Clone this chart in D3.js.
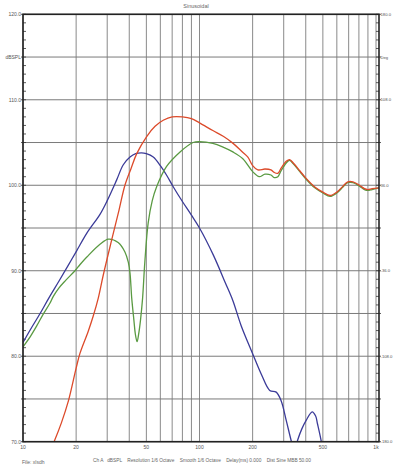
<!DOCTYPE html>
<html><head><meta charset="utf-8">
<script src="https://cdn.jsdelivr.net/npm/d3@7"></script>
<style>body{margin:0;background:#fff;}svg{display:block;}</style>
</head><body>
<script>
const title = "Sinusoidal";
const xTicks = [10,20,50,100,200,500,1000];
const xTickLabels = ["10","20","50","100","200","500","1k"];
const yLeftLabels = ["120.0","dBSPL","110.0","100.0","90.0","80.0","70.0"];
const yLeftLabelVals = [120,115,110,100,90,80,70];
const yRightLabels = ["180.0","Deg","108.0","36.0","-36.0","-108.0","-180.0"];

const redF  = [14,15,16.5,18.1,20,21,23.4,25,26.7,28.5,31.8,35,37.8,41,44.1,50.2,56,62.3,70,80,90,100,119,137,155,175,188,200,214,235,254,265,278,290,310,324,340,370,402,450,500,549,600,650,692,740,806,860,899,950,1040];
const redDB = [68.6,70,72.2,74.8,78.6,80.3,82.9,84.7,86.8,89.5,93.6,97.1,100,102,103.7,105.7,106.9,107.6,108,108,107.8,107.3,106.4,105.7,104.9,103.9,103.3,102.3,101.8,101.9,101.8,101.5,101.4,102,102.8,103,102.6,101.7,100.8,99.8,99.2,98.8,99.2,99.9,100.4,100.4,100,99.6,99.5,99.6,99.7];

const greenF  = [10,11,12,13,14.2,14.85,16,17.5,19.7,21,23,27.3,30.5,34.6,37.8,39.5,40.4,41.3,42.5,43.3,44.3,45.3,46.3,47.6,49,51.2,54,57.1,65.1,77.6,92,100,119,135,154.6,176,200,218,235,254,265,278,290,310,324,340,370,402,450,500,549,600,650,692,740,806,860,899,950,1040];
const greenDB = [81.1,82.3,83.6,84.9,86.2,87.0,88.0,88.9,90.0,90.7,91.6,93.1,93.7,93.3,92.2,91.0,89.7,86.8,84.2,82.6,81.7,82.7,84.2,86.8,91,95.6,98.2,99.8,102.2,103.9,105,105.1,104.9,104.5,103.9,103.1,101.6,101,101.3,101.2,100.9,101,101.7,102.6,102.9,102.5,101.6,100.7,99.7,99.1,98.7,99.1,99.8,100.3,100.3,99.9,99.5,99.4,99.5,99.7];

const blueF  = [10,11,12.5,14,16,18,20.1,23,27.3,30,33.9,37,40.4,43.5,46.9,50,54.7,60,65,71.1,80,90,100,120,140,154.6,172,200,225,250,272,290,310,330,345,360,380,402,435,455,466,490,510,540];
const blueDB = [81.6,83.1,85,86.8,88.8,90.6,92.3,94.4,96.6,98.2,100.6,102.4,103.3,103.7,103.8,103.7,103.3,102.3,101.2,99.8,98.1,96.5,95,91.8,88.6,86.5,83.6,80.3,77.8,76,75.8,74.8,72.5,70.2,68.8,70.2,71.5,72.5,73.5,73,72.1,70,67.5,65];

const W = 393, H = 465;
const L = 23, R = 379, T = 14.3, B = 441.7;
const x = d3.scaleLog().domain([10,1000]).range([L,376]);
const y = d3.scaleLinear().domain([70,120]).range([B,T]);

const svg = d3.select("body").append("svg").attr("width",W).attr("height",H)
  .style("font-family","Liberation Sans, Arial, sans-serif");

svg.append("text").attr("x",196).attr("y",8).attr("text-anchor","middle")
  .attr("font-size",5.5).attr("fill","#666").text(title);

// grid
const vGrid = [];
for (let d of [10,100]) for (let k=1;k<=9;k++) vGrid.push(d*k);
vGrid.push(1000);
svg.append("g").selectAll("line").data(vGrid).join("line")
  .attr("x1",d=>x(d)).attr("x2",d=>x(d)).attr("y1",T).attr("y2",B)
  .attr("stroke","#8a8a8a").attr("stroke-width",1);
const hGrid = d3.range(70,121,5);
svg.append("g").selectAll("line").data(hGrid).join("line")
  .attr("x1",L).attr("x2",R).attr("y1",d=>y(d)).attr("y2",d=>y(d))
  .attr("stroke","#7a7a7a").attr("stroke-width",1);

// minor ticks
const minor = d3.range(70,121,1);
svg.append("g").selectAll("line").data(minor).join("line")
  .attr("x1",L).attr("x2",L+3).attr("y1",d=>y(d)).attr("y2",d=>y(d))
  .attr("stroke","#333").attr("stroke-width",0.8);
svg.append("g").selectAll("line").data(minor).join("line")
  .attr("x1",R-3).attr("x2",R).attr("y1",d=>y(d)).attr("y2",d=>y(d))
  .attr("stroke","#333").attr("stroke-width",0.8);
svg.append("g").selectAll("line").data(hGrid).join("line")
  .attr("x1",R).attr("x2",R+2).attr("y1",d=>y(d)).attr("y2",d=>y(d))
  .attr("stroke","#333").attr("stroke-width",0.8);
svg.append("g").selectAll("line").data(hGrid).join("line")
  .attr("x1",L-2).attr("x2",L).attr("y1",d=>y(d)).attr("y2",d=>y(d))
  .attr("stroke","#333").attr("stroke-width",0.8);

// clip
svg.append("clipPath").attr("id","clip").append("rect")
  .attr("x",L).attr("y",T).attr("width",R-L).attr("height",B-T);

const line = d3.line().x(d=>x(d[0])).y(d=>y(d[1])).curve(d3.curveCatmullRom.alpha(0.5));
const series = [
  {f:blueF, v:blueDB, c:"#3b3b98"},
  {f:greenF, v:greenDB, c:"#5a9a42"},
  {f:redF, v:redDB, c:"#dc4a2a"}
];
const g = svg.append("g").attr("clip-path","url(#clip)");
series.forEach(s=>{
  g.append("path").datum(s.f.map((f,i)=>[f,s.v[i]]))
    .attr("d",line).attr("fill","none").attr("stroke",s.c).attr("stroke-width",1.3);
});

// frame
svg.append("rect").attr("x",L).attr("y",T).attr("width",R-L).attr("height",B-T)
  .attr("fill","none").attr("stroke","#222").attr("stroke-width",1.6);

// labels
svg.append("g").selectAll("text").data(yLeftLabels).join("text")
  .attr("x",L-2).attr("y",(d,i)=>y(yLeftLabelVals[i])+2)
  .attr("text-anchor","end").attr("font-size",5).attr("fill","#555").text(d=>d);
svg.append("g").selectAll("text").data(yRightLabels).join("text")
  .attr("x",R+1.5).attr("y",(d,i)=>y(yLeftLabelVals[i])+1.6)
  .attr("font-size",4.2).attr("fill","#555").text(d=>d);
svg.append("g").selectAll("text").data(xTicks).join("text")
  .attr("x",d=>x(d)).attr("y",B+7.5).attr("text-anchor","middle")
  .attr("font-size",5).attr("fill","#555").text((d,i)=>xTickLabels[i]);

svg.append("text").attr("x",22).attr("y",464).attr("font-size",5).attr("fill","#666").text("File: xlsdh");
svg.append("text").attr("x",93).attr("y",462).attr("font-size",4.8).attr("fill","#666")
  .attr("xml:space","preserve")
  .text("Ch A   dBSPL    Resolution 1/6 Octave    Smooth 1/6 Octave    Delay(ms) 0.000    Dist Sine MBB 50.00");
</script>
</body></html>
